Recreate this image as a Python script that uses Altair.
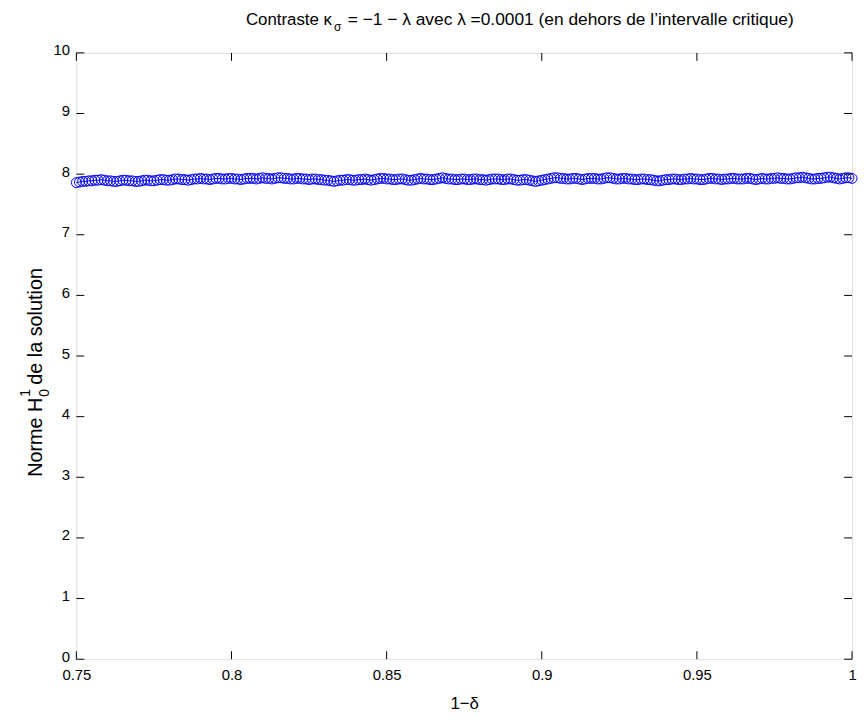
import altair as alt
import pandas as pd

# x grid: 1-delta from 0.75 to 1.00, step 0.001 (251 points)
x_start = 0.75
x_step = 0.001
n_points = 251

# H^1_0 norm values (one per grid point)
norm_values = [
    7.86, 7.87, 7.88, 7.88, 7.89, 7.89, 7.90, 7.90, 7.91, 7.90, 7.89, 7.89, 7.88, 7.88, 7.89, 7.90, 7.90, 7.89, 7.89, 7.88, 7.88, 7.89, 7.90, 7.90, 7.89,
    7.89, 7.90, 7.91, 7.91, 7.90, 7.90, 7.91, 7.92, 7.92, 7.91, 7.91, 7.90, 7.91, 7.92, 7.92, 7.93, 7.92, 7.92, 7.91, 7.92, 7.93, 7.93, 7.92, 7.92, 7.93,
    7.93, 7.92, 7.92, 7.91, 7.92, 7.93, 7.93, 7.93, 7.92, 7.93, 7.94, 7.93, 7.93, 7.92, 7.93, 7.94, 7.94, 7.93, 7.93, 7.92, 7.92, 7.93, 7.93, 7.92, 7.92,
    7.91, 7.92, 7.92, 7.91, 7.91, 7.90, 7.90, 7.89, 7.88, 7.89, 7.90, 7.90, 7.91, 7.91, 7.90, 7.90, 7.91, 7.91, 7.92, 7.91, 7.90, 7.91, 7.92, 7.93, 7.93,
    7.92, 7.92, 7.91, 7.91, 7.92, 7.92, 7.91, 7.90, 7.90, 7.91, 7.92, 7.93, 7.92, 7.92, 7.91, 7.91, 7.92, 7.93, 7.94, 7.93, 7.92, 7.92, 7.91, 7.91, 7.92,
    7.92, 7.91, 7.91, 7.92, 7.92, 7.91, 7.91, 7.90, 7.91, 7.92, 7.92, 7.92, 7.91, 7.91, 7.92, 7.92, 7.91, 7.90, 7.90, 7.91, 7.91, 7.90, 7.89, 7.88, 7.89,
    7.90, 7.91, 7.92, 7.93, 7.94, 7.94, 7.93, 7.93, 7.92, 7.92, 7.93, 7.93, 7.92, 7.91, 7.92, 7.93, 7.93, 7.93, 7.92, 7.92, 7.93, 7.94, 7.94, 7.93, 7.92,
    7.92, 7.93, 7.93, 7.92, 7.92, 7.91, 7.91, 7.92, 7.92, 7.91, 7.91, 7.90, 7.89, 7.89, 7.90, 7.91, 7.91, 7.92, 7.92, 7.91, 7.91, 7.92, 7.92, 7.93, 7.92,
    7.92, 7.91, 7.91, 7.92, 7.93, 7.93, 7.92, 7.92, 7.91, 7.92, 7.92, 7.93, 7.93, 7.92, 7.92, 7.92, 7.93, 7.93, 7.92, 7.91, 7.92, 7.93, 7.92, 7.92, 7.93,
    7.93, 7.94, 7.93, 7.93, 7.92, 7.92, 7.93, 7.94, 7.94, 7.95, 7.94, 7.93, 7.92, 7.92, 7.93, 7.93, 7.94, 7.95, 7.95, 7.94, 7.93, 7.92, 7.93, 7.94, 7.94,
    7.93,
]

x_ticks = [0.75, 0.8, 0.85, 0.9, 0.95, 1.0]
y_ticks = [0, 1, 2, 3, 4, 5, 6, 7, 8, 9, 10]

W, H = 783, 612
TL = 8  # inward tick length
FONT = "Liberation Sans"
BLUE = "#0000ff"

x_vals = [round(x_start + i * x_step, 3) for i in range(n_points)]
df = pd.DataFrame({"x": x_vals, "y": norm_values})
xt = pd.DataFrame({"xt": x_ticks})
yt = pd.DataFrame({"yt": y_ticks})

xscale = alt.Scale(domain=[0.75, 1.0], nice=False, zero=False)
yscale = alt.Scale(domain=[0, 10], nice=False, zero=False)

xaxis = alt.Axis(values=x_ticks, format="~g", ticks=False, domain=False, grid=False,
                 labelPadding=9, labelFlush=False, labelOverlap=False,
                 labelFontSize=15, labelFont=FONT, labelColor="black",
                 title="1\u2212\u03b4", titleFontSize=17, titleFont=FONT,
                 titleFontWeight="normal", titleColor="black", titlePadding=13)
yaxis = alt.Axis(values=y_ticks, format="d", ticks=False, domain=False, grid=False,
                 labelPadding=7, labelOffset=-3, labelFlush=False, labelOverlap=False,
                 labelFontSize=15, labelFont=FONT, labelColor="black", title=None)

base = alt.Chart(df)
line = base.mark_line(color=BLUE, strokeWidth=1).encode(
    x=alt.X("x:Q", scale=xscale, axis=xaxis),
    y=alt.Y("y:Q", scale=yscale, axis=yaxis),
)
pts = base.mark_point(shape="circle", filled=False, size=100, color=BLUE,
                      strokeWidth=1, opacity=1).encode(x="x:Q", y="y:Q")

tb = alt.Chart(xt).mark_rule(color="black", strokeWidth=1).encode(
    x=alt.X("xt:Q", scale=xscale), y=alt.value(H), y2=alt.value(H - TL))
tt = alt.Chart(xt).mark_rule(color="black", strokeWidth=1).encode(
    x=alt.X("xt:Q", scale=xscale), y=alt.value(0), y2=alt.value(TL))
tl = alt.Chart(yt).mark_rule(color="black", strokeWidth=1).encode(
    y=alt.Y("yt:Q", scale=yscale), x=alt.value(0), x2=alt.value(TL))
tr = alt.Chart(yt).mark_rule(color="black", strokeWidth=1).encode(
    y=alt.Y("yt:Q", scale=yscale), x=alt.value(W), x2=alt.value(W - TL))

one = pd.DataFrame({"a": [0]})

def txt(text, x, y, size=17, align="left", angle=0, baseline="alphabetic"):
    kw = dict(text=text, fontSize=size, font=FONT, align=align, baseline=baseline, color="black")
    if angle:
        kw["angle"] = angle
    return alt.Chart(one).mark_text(**kw).encode(x=alt.value(x), y=alt.value(y))

# title pieces (kappa with sigma subscript)
t1 = txt("Contraste \u03ba", 258, -28, size=17, align="right")
t2 = txt("\u03c3", 260, -22, size=12)
t3 = txt("= \u22121 \u2212 \u03bb avec \u03bb =0.0001 (en dehors de l\u2019intervalle critique)", 274, -28, size=17.5)

# y-axis title pieces (H with stacked 1 / 0)
ya = txt("Norme H", -35, 348, size=20, align="right", angle=270)
yb = txt("1", -47, 347, size=14, angle=270)
yc = txt("0", -28, 347, size=14, angle=270)
yd = txt("de la solution", -35, 335, size=20, angle=270)

chart = alt.layer(line, pts, tb, tt, tl, tr, t1, t2, t3, ya, yb, yc, yd).properties(
    width=W, height=H,
    autosize=alt.AutoSizeParams(type="none"),
    padding={"left": 69, "top": 42, "right": 6, "bottom": 50},
).configure_view(stroke="black", strokeWidth=1).configure(background="white")

chart.save("out.html", embed_options={"renderer": "svg", "actions": False})
